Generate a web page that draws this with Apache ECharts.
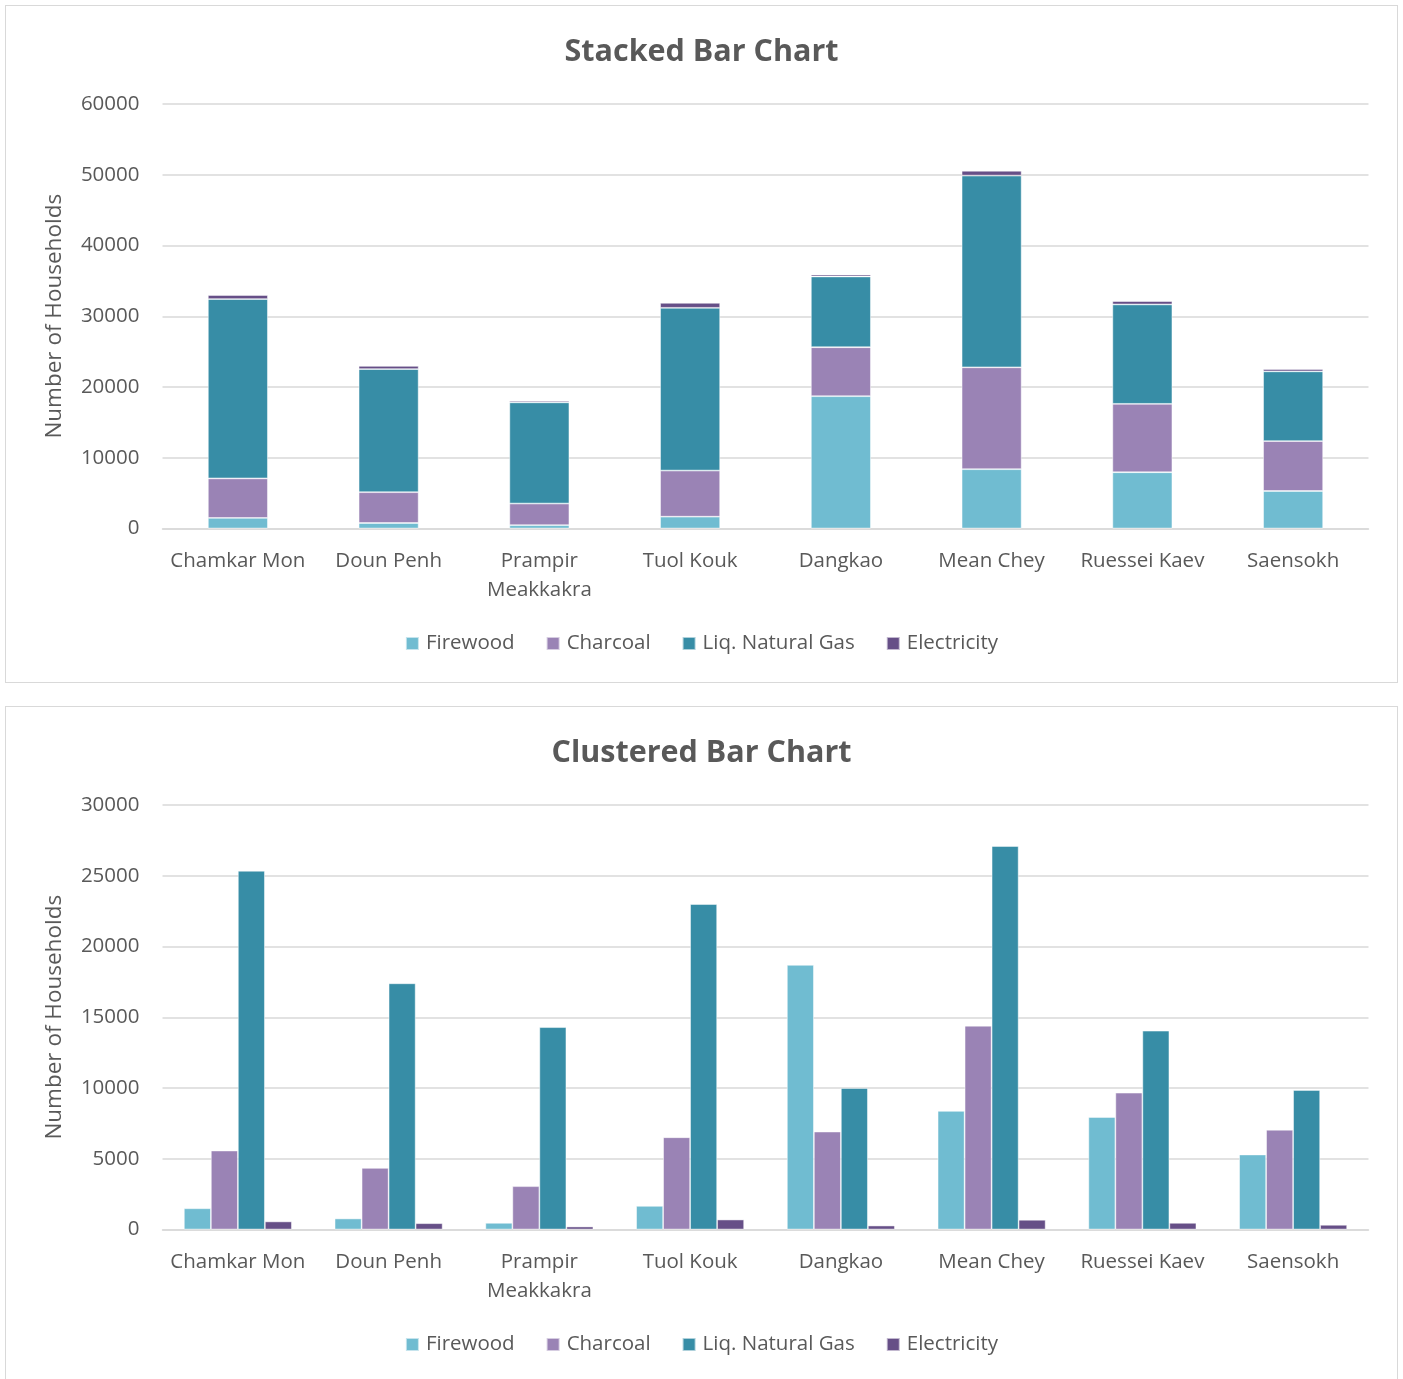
<!DOCTYPE html>
<html>
<head>
<meta charset="utf-8">
<script src="https://cdn.jsdelivr.net/npm/echarts@6/dist/echarts.min.js"></script>
<style>
  html, body { margin: 0; padding: 0; background: #fff; overflow: hidden; }
  .panel { position: absolute; left: 5px; width: 1393px; border: 1.5px solid #d9d9d9; background: #fff; box-sizing: border-box; }
  #stacked { top: 5px; height: 678px; }
  #clustered { top: 706px; height: 690px; }
</style>
</head>
<body>
<div id="stacked" class="panel"></div>
<div id="clustered" class="panel"></div>
<script>
// Households by main cooking fuel, per district of Phnom Penh
const districts = ['Chamkar Mon', 'Doun Penh', 'Prampir\nMeakkakra', 'Tuol Kouk', 'Dangkao', 'Mean Chey', 'Ruessei Kaev', 'Saensokh'];
const fuelNames = ['Firewood', 'Charcoal', 'Liq. Natural Gas', 'Electricity'];
const firewood    = [1500, 780, 470, 1670, 18700, 8380, 7950, 5300];
const charcoal    = [5580, 4350, 3060, 6520, 6920, 14400, 9670, 7050];
const naturalGas  = [25350, 17400, 14300, 23000, 10000, 27100, 14050, 9860];
const electricity = [570, 445, 210, 705, 280, 685, 470, 330];
const stackedTicks = [0, 10000, 20000, 30000, 40000, 50000, 60000];
const clusteredTicks = [0, 5000, 10000, 15000, 20000, 25000, 30000];

const fuelColors = ['#70bcd1', '#9a83b5', '#378da6', '#664f87'];
const fuelValues = [firewood, charcoal, naturalGas, electricity];
const FONT = '"Open Sans", "Noto Sans", sans-serif';
const TEXT = '#595959';
const GRID = '#d9d9d9';

function buildOption(title, ticks, stacked) {
  const step = ticks[1] - ticks[0];
  return {
    animation: false,
    textStyle: { fontFamily: FONT },
    title: {
      text: title, left: 'center', top: 26,
      textStyle: { fontFamily: FONT, fontSize: 30.5, fontWeight: 'bold', color: TEXT }
    },
    legend: {
      top: 622, left: 'center', itemWidth: 13, itemHeight: 13, itemGap: 31,
      icon: 'rect',
      textStyle: { fontFamily: FONT, fontSize: 20.5, color: TEXT, padding: [0, 0, 0, 2] },
      data: fuelNames
    },
    grid: { left: 156.5, right: 28.5, top: 98, height: 424.5 },
    xAxis: {
      type: 'category', data: districts,
      axisLine: { lineStyle: { color: GRID, width: 1.5 } },
      axisTick: { show: false },
      axisLabel: { fontFamily: FONT, fontSize: 20.5, color: TEXT, margin: 18, lineHeight: 29, interval: 0 }
    },
    yAxis: {
      type: 'value', min: ticks[0], max: ticks[ticks.length - 1], interval: step,
      name: 'Number of Households', nameLocation: 'middle', nameGap: 96,
      nameTextStyle: { fontFamily: FONT, fontSize: 22.5, color: TEXT },
      axisLine: { show: false }, axisTick: { show: false },
      axisLabel: { fontFamily: FONT, fontSize: 20.5, color: TEXT, margin: 23, formatter: v => String(v) },
      splitLine: { lineStyle: { color: GRID, width: 1.5 } }
    },
    series: fuelNames.map((name, i) => ({
      name, type: 'bar',
      stack: stacked ? 'total' : undefined,
      data: fuelValues[i],
      barWidth: stacked ? 60 : 27,
      barGap: '0%',
      itemStyle: { color: fuelColors[i], borderColor: 'rgba(255,255,255,0.6)', borderWidth: 0.8 }
    }))
  };
}

echarts.init(document.getElementById('stacked'), null, { renderer: 'canvas' })
  .setOption(buildOption('Stacked Bar Chart', stackedTicks, true));
echarts.init(document.getElementById('clustered'), null, { renderer: 'canvas' })
  .setOption(buildOption('Clustered Bar Chart', clusteredTicks, false));
</script>
</body>
</html>
